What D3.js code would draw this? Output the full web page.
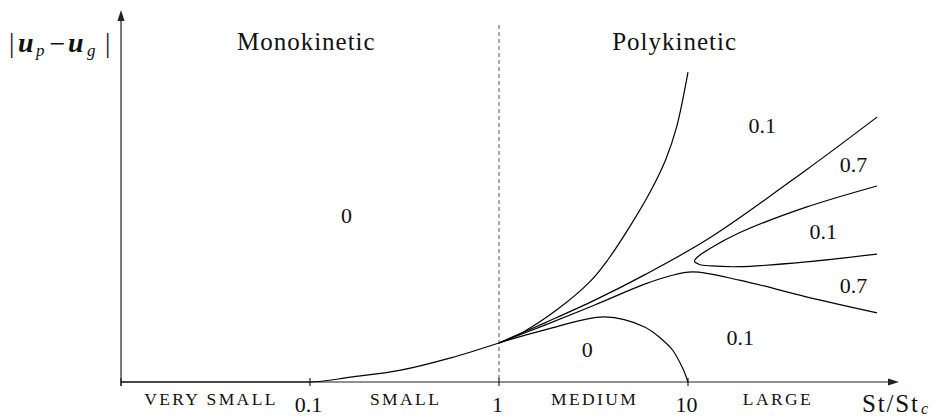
<!DOCTYPE html>
<html>
<head>
<meta charset="utf-8">
<script src="https://cdn.jsdelivr.net/npm/d3@7"></script>
<style>
  html, body { margin: 0; padding: 0; background: #fff; }
  svg { display: block; }
</style>
</head>
<body>
<svg id="chart" width="936" height="416"></svg>
<script>
// ---- data (x = St/St_c, y = arbitrary |u_p - u_g| height) ----
const mainX  = [0.01, 0.1, 0.164, 0.302, 0.555, 1];
const mainY  = [0, 0, 0.13, 0.32, 0.65, 1.05];

const upperX = [1, 1.339, 2.023, 3.02, 3.76, 4.91, 6.26, 7.61, 8.70, 10];
const upperY = [1.05, 1.34, 1.94, 2.69, 3.28, 4.17, 5.08, 5.97, 6.85, 8.33];

const topX   = [1, 1.748, 3.21, 5.89, 12.99, 42.2, 100];
const topY   = [1.05, 1.59, 2.20, 2.88, 3.87, 5.70, 7.12];

const lowX   = [1, 1.748, 3.21, 5.89, 7.99, 10.56, 18.7, 42.2, 100];
const lowY   = [1.05, 1.53, 2.07, 2.63, 2.85, 2.96, 2.74, 2.29, 1.86];

const loopX  = [100, 42.2, 18.7, 12.99, 11.22, 10.82, 11.50, 13.31, 18.7, 42.2, 100];
const loopY  = [5.27, 4.70, 4.01, 3.58, 3.36, 3.25, 3.16, 3.12, 3.10, 3.23, 3.44];

const domeX  = [1, 1.748, 3.63, 5.89, 7.34, 8.28, 9.35, 10];
const domeY  = [1.05, 1.40, 1.75, 1.48, 1.13, 0.86, 0.38, 0];

const regionText = ["0", "0.1", "0.7", "0.1", "0.7", "0.1", "0"];
const regionX    = [0.156, 24.7, 75.2, 51.9, 75.2, 18.9, 2.93];
const regionY    = [4.27, 6.69, 5.65, 3.84, 2.39, 0.99, 0.68];

const tickValues = [0.01, 0.1, 1, 10];
const tickLabels = ["", "0.1", "1", "10"];
const classNames = ["VERY SMALL", "SMALL", "MEDIUM", "LARGE"];
const classX     = [0.0295, 0.316, 3.16, 29.5];
const regimeNames = ["Monokinetic", "Polykinetic"];
const regimeX     = [0.095, 8.44];
const boundaryX   = 1;

// ---- scales ----
const FONT = "Liberation Serif";
const svg = d3.select("#chart").attr("font-family", FONT);
const x = d3.scaleLog().domain([0.01, 100]).range([121, 877]);
const y = d3.scaleLinear().domain([0, 10]).range([382, 10]);
const xEnd = 899;

const zip = (a, b) => a.map((v, i) => [v, b[i]]);
const lineCR = d3.line().x(d => x(d[0])).y(d => y(d[1])).curve(d3.curveCatmullRom.alpha(0.5));
const lineMono = d3.line().x(d => x(d[0])).y(d => y(d[1])).curve(d3.curveMonotoneX);

// dashed boundary
svg.append("line")
  .attr("x1", x(boundaryX)).attr("x2", x(boundaryX))
  .attr("y1", 25).attr("y2", y(0))
  .attr("stroke", "#555").attr("stroke-width", 1)
  .attr("stroke-dasharray", "4,3");

// axes
const axisColor = "#222";
svg.append("line").attr("x1", x(0.01)).attr("x2", xEnd - 6).attr("y1", y(0)).attr("y2", y(0))
  .attr("stroke", axisColor).attr("stroke-width", 1.2);
svg.append("line").attr("x1", x(0.01)).attr("x2", x(0.01)).attr("y1", y(0) + 4).attr("y2", y(10) + 6)
  .attr("stroke", axisColor).attr("stroke-width", 1.2);
svg.append("path")
  .attr("d", `M${xEnd},${y(0)} L${xEnd - 11},${y(0) - 3.6} L${xEnd - 11},${y(0) + 3.6} Z`)
  .attr("fill", axisColor);
svg.append("path")
  .attr("d", `M${x(0.01)},${y(10)} L${x(0.01) - 3.6},${y(10) + 11} L${x(0.01) + 3.6},${y(10) + 11} Z`)
  .attr("fill", axisColor);

// ticks
svg.selectAll("line.tick").data(tickValues).enter().append("line")
  .attr("class", "tick")
  .attr("x1", d => x(d)).attr("x2", d => x(d))
  .attr("y1", y(0) - 4).attr("y2", y(0) + 4)
  .attr("stroke", axisColor).attr("stroke-width", 1.2);

const T = sel => sel.attr("font-family", FONT).attr("fill", "#111");

svg.selectAll("text.ticklab").data(tickValues).enter().append("text")
  .attr("class", "ticklab").call(T)
  .attr("x", d => x(d) - 1.5).attr("y", 412)
  .attr("text-anchor", "middle").attr("font-size", 22)
  .text((d, i) => tickLabels[i]);

svg.selectAll("text.cls").data(classNames).enter().append("text")
  .attr("class", "cls").call(T)
  .attr("x", (d, i) => x(classX[i]) + 1.2).attr("y", 404.5)
  .attr("text-anchor", "middle").attr("font-size", 17.5)
  .attr("letter-spacing", "2.4px")
  .text(d => d);

// x-axis title St/St_c
svg.append("text").call(T).attr("x", 862).attr("y", 412).attr("font-size", 25)
  .attr("letter-spacing", "1.8px").text("St/St");
svg.append("text").call(T).attr("x", 921).attr("y", 414).attr("font-size", 16)
  .attr("font-style", "italic").text("c");

// y-axis title |u_p - u_g|
const yl = svg.append("g");
yl.append("text").call(T).attr("x", 9).attr("y", 52).attr("font-size", 27).text("|");
yl.append("text").call(T).attr("x", 18).attr("y", 52).attr("font-size", 28)
  .attr("font-weight", "bold").attr("font-style", "italic").text("u");
yl.append("text").call(T).attr("x", 36).attr("y", 56).attr("font-size", 17).attr("font-style", "italic").text("p");
yl.append("text").call(T).attr("x", 57.5).attr("y", 53).attr("font-size", 28).attr("text-anchor", "middle").text("\u2212");
yl.append("text").call(T).attr("x", 68).attr("y", 52).attr("font-size", 28)
  .attr("font-weight", "bold").attr("font-style", "italic").text("u");
yl.append("text").call(T).attr("x", 87).attr("y", 56).attr("font-size", 17).attr("font-style", "italic").text("g");
yl.append("text").call(T).attr("x", 105).attr("y", 52).attr("font-size", 27).text("|");

// regime headings
svg.selectAll("text.regime").data(regimeNames).enter().append("text")
  .attr("class", "regime").call(T)
  .attr("x", (d, i) => x(regimeX[i]) + 0.5).attr("y", 50)
  .attr("text-anchor", "middle").attr("font-size", 25)
  .attr("letter-spacing", "1px")
  .text(d => d);

// curves
const curveStyle = sel => sel.attr("fill", "none").attr("stroke", "#000").attr("stroke-width", 1.2);
svg.append("path").attr("d", lineMono(zip(mainX, mainY))).call(curveStyle);
svg.append("path").attr("d", lineCR(zip(upperX, upperY))).call(curveStyle);
svg.append("path").attr("d", lineCR(zip(topX, topY))).call(curveStyle);
svg.append("path").attr("d", lineCR(zip(lowX, lowY))).call(curveStyle);
svg.append("path").attr("d", lineCR(zip(loopX, loopY))).call(curveStyle);
svg.append("path").attr("d", lineCR(zip(domeX, domeY))).call(curveStyle);

// region labels
svg.selectAll("text.region").data(regionText).enter().append("text")
  .attr("class", "region").call(T)
  .attr("x", (d, i) => x(regionX[i])).attr("y", (d, i) => y(regionY[i]))
  .attr("text-anchor", "middle").attr("font-size", 22)
  .text(d => d);
</script>
</body>
</html>
